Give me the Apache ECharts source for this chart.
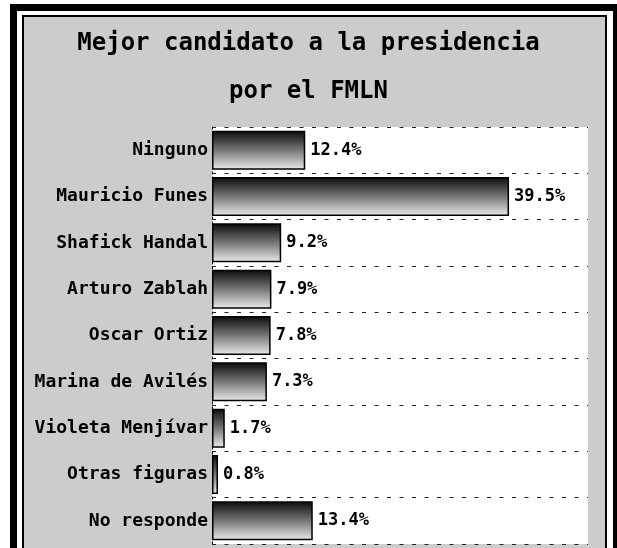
<!DOCTYPE html>
<html>
<head>
<meta charset="utf-8">
<script src="https://cdn.jsdelivr.net/npm/echarts@6/dist/echarts.min.js"></script>
<style>
  html, body { margin: 0; padding: 0; background: #fff; }
  #chart { width: 617px; height: 548px; }
</style>
</head>
<body>
<div id="chart"></div>
<script>
  // candidatos, de arriba hacia abajo
  const candidatos = ['Ninguno', 'Mauricio Funes', 'Shafick Handal', 'Arturo Zablah', 'Oscar Ortiz',
    'Marina de Avilés', 'Violeta Menjívar', 'Otras figuras', 'No responde'];
  const porcentajes = [12.4, 39.5, 9.2, 7.9, 7.8, 7.3, 1.7, 0.8, 13.4];
  const titulo = 'Mejor candidato a la presidencia\npor el FMLN';

  const fuente = '"DejaVu Sans Mono", "Liberation Mono", monospace';

  let chart = echarts.init(document.getElementById('chart'));
  let option = {
    animation: false,
    backgroundColor: '#fff',
    graphic: [
      // marco negro grueso, blanco, y panel gris con borde fino
      { type: 'rect', z: -10, shape: { x: 10, y: 4, width: 640, height: 600 }, style: { fill: '#000' } },
      { type: 'rect', z: -9, shape: { x: 17, y: 11, width: 596, height: 600 }, style: { fill: '#fff' } },
      { type: 'rect', z: -8, shape: { x: 23, y: 16, width: 583, height: 600 },
        style: { fill: '#cccccc', stroke: '#000', lineWidth: 2 } }
    ],
    title: {
      text: titulo,
      left: 'center',
      top: 15,
      textStyle: {
        fontFamily: fuente,
        fontSize: 24,
        fontWeight: 'bold',
        color: '#000',
        lineHeight: 48
      }
    },
    grid: {
      left: 212,
      right: 29,
      top: 127,
      bottom: 4,
      show: true,
      backgroundColor: '#fff',
      borderWidth: 0
    },
    xAxis: {
      type: 'value',
      min: 0,
      max: 50,
      show: false
    },
    yAxis: {
      type: 'category',
      inverse: true,
      data: candidatos,
      axisLine: { show: true, lineStyle: { color: '#000', width: 1, type: [2, 3] } },
      axisTick: { show: false },
      axisLabel: {
        fontFamily: fuente,
        fontSize: 18,
        fontWeight: 'bold',
        color: '#000',
        margin: 4
      },
      splitLine: {
        show: true,
        lineStyle: { color: '#222', width: 1, type: [4, 8.5] }
      }
    },
    series: [{
      type: 'bar',
      data: porcentajes,
      barWidth: 39,
      itemStyle: {
        color: new echarts.graphic.LinearGradient(0, 0, 0, 1, [
          { offset: 0, color: '#0a0a0a' },
          { offset: 0.5, color: '#777' },
          { offset: 1, color: '#ececec' }
        ]),
        borderColor: '#000',
        borderWidth: 1.5
      },
      label: {
        show: true,
        position: 'right',
        distance: 5,
        formatter: function (p) { return p.value.toFixed(1) + '%'; },
        fontFamily: fuente,
        fontSize: 17,
        fontWeight: 'bold',
        color: '#000'
      }
    }]
  };
  chart.setOption(option);
</script>
</body>
</html>
